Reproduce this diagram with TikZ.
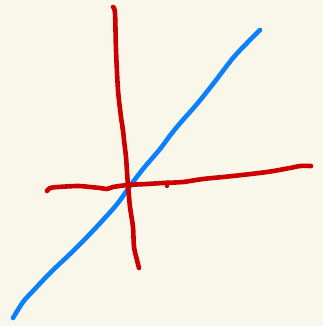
\documentclass[tikz,border=0pt]{standalone}
\definecolor{bgcream}{RGB}{249,246,234}
\definecolor{penblue}{RGB}{10,128,250}
\definecolor{penred}{RGB}{204,0,0}
\begin{document}
\begin{tikzpicture}[x=1pt,y=-1pt,
  stroke/.style={line width=4.6pt,line cap=round,line join=round},
  bluestroke/.style={stroke,draw=penblue},
  redstroke/.style={stroke,draw=penred}]
\fill[bgcream] (0,0) rectangle (323,326);
\useasboundingbox (0,0) rectangle (323,326);
% blue line
\draw[bluestroke] plot[smooth,tension=0.5] coordinates {(13,318) (23,302) (33,291) (50,273) (70,254) (87,237) (103,220) (118,203) (130,186) (143,169) (160,149) (172,133) (182,121) (197,104) (213,84) (233,58) (247,43) (260,30)};
% red vertical
\draw[redstroke] plot[smooth,tension=0.5] coordinates {(113,7) (115,13) (116,50) (118,90) (121,117) (123,130) (124,140) (126,157) (127,172) (128,185) (130,207) (133,227) (134,247) (137,260) (139,268)};
\draw[redstroke,line width=3.5pt] (122,127) -- (123,133);
% red horizontal
\draw[redstroke] plot[smooth,tension=0.5] coordinates {(47,191) (50,188) (58,187) (78,186) (90,187) (100,188) (107,189) (113,187) (128,185) (147,184) (163,183) (183,182) (203,179) (233,176) (267,172) (290,168) (300,166) (311,166)};
\draw[redstroke,line width=3.5pt] (167,182) -- (167,186.5);
\end{tikzpicture}
\end{document}
